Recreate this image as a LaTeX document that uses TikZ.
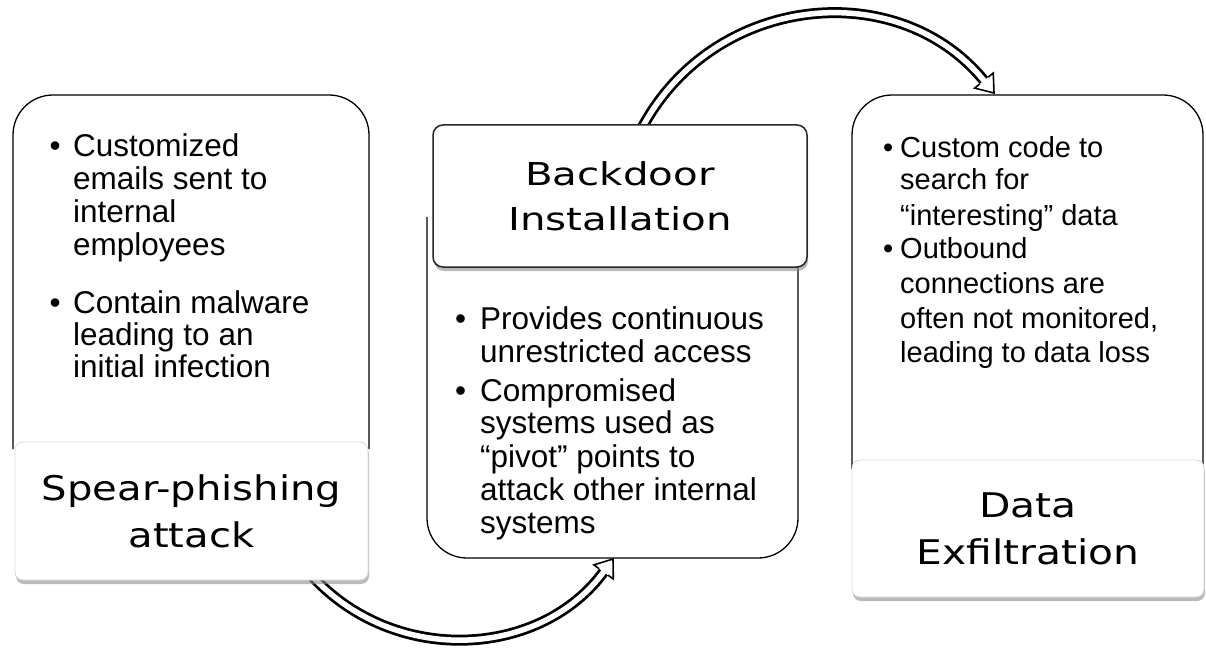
\documentclass[tikz,border=0pt]{standalone}
\usepackage{fontspec}
\setmainfont{Liberation Sans}
\newfontfamily\labfont{DejaVu Sans}
\usetikzlibrary{shadows}
\tikzset{
 outline/.style={line width=1.3pt, black, rounded corners=40pt},
 lab/.style={rectangle, rounded corners=8pt, fill=white, inner sep=0pt,
   drop shadow={shadow xshift=1pt, shadow yshift=-4pt, fill=black!45, opacity=0.6}},
 labelA/.style={lab, draw=black!15, line width=0.8pt},
 labelB/.style={lab, draw=black!85, line width=1.5pt, rounded corners=10pt},
 labtxt/.style={align=center, inner sep=0pt, transform shape},
 txt/.style={anchor=base west, inner sep=0pt, font=\fontsize{31.5}{34}\selectfont},
 txtS/.style={anchor=base west, inner sep=0pt, font=\fontsize{29}{34}\selectfont},
 bandO/.style={line width=11pt, black, shorten >=15pt},
 bandI/.style={line width=5.5pt, white, shorten >=15pt},
 headshape/.style={fill=white, draw=black, line width=1.6pt, line join=miter}
}
\begin{document}
\begin{tikzpicture}[x=1pt,y=1pt]
\useasboundingbox (0,0) rectangle (1206,649);
% outer boxes
\draw[outline] (13,200) -- (13,554) -- (369,554) -- (369,200);
\draw[outline] (427,432) -- (427,91) -- (798,91) -- (798,432);
\draw[outline] (852,180) -- (852,554) -- (1203,554) -- (1203,180);
% arrows
\coordinate (A1s) at (642,521);
\coordinate (A1e) at (994,556);
\coordinate (A2s) at (313,72);
\coordinate (A2e) at (613,90);
\draw[bandO] (A1s) to[out=62,in=129,looseness=1.1] (A1e);
\draw[bandI] (A1s) to[out=62,in=129,looseness=1.1] (A1e);
\begin{scope}[shift={(A1e)}, rotate=-51]
\draw[headshape] (-16,5.5) -- (-16,12) -- (0,0) -- (-16,-12) -- (-16,-5.5);
\end{scope}
\draw[bandO] (A2s) to[out=-47,in=234,looseness=1.04] (A2e);
\draw[bandI] (A2s) to[out=-47,in=234,looseness=1.04] (A2e);
\begin{scope}[shift={(A2e)}, rotate=54]
\draw[headshape] (-16,5.5) -- (-16,12) -- (0,0) -- (-16,-12) -- (-16,-5.5);
\end{scope}
% labels
\node[labelA, minimum width=353pt, minimum height=138pt] (L1) at (191.5,138) {};
\node[labelB, minimum width=374pt, minimum height=142pt] (L2) at (620,453) {};
\node[labelA, minimum width=352pt, minimum height=137pt] (L3) at (1028,120.5) {};
\node[labtxt, xscale=1.18, font=\labfont\fontsize{34}{47}\selectfont] (L1t) at (L1) {Spear-phishing\\attack};
\node[labtxt, xscale=1.28, font=\labfont\fontsize{31.5}{45}\selectfont] (L2t) at (L2) {Backdoor\\Installation};
\node[labtxt, xscale=1.2, font=\labfont\fontsize{34}{47}\selectfont] (L3t) at (L3) {Data\\Exfiltration};
% left text
\node[txt] (p1a) at (49.5,492) {•};
\node[txt] (p1b) at (49.5,336) {•};
\node[txt] (t11) at (73,492) {Customized};
\node[txt] (t12) at (73,459) {emails sent to};
\node[txt] (t13) at (73,426) {internal};
\node[txt] (t14) at (73,394) {employees};
\node[txt] (t15) at (73,336) {Contain malware};
\node[txt] (t16) at (73,304) {leading to an};
\node[txt] (t17) at (73,272) {initial infection};
% middle text
\node[txt] (p2a) at (455,320) {•};
\node[txt] (p2b) at (455,248) {•};
\node[txt] (t21) at (480,320) {Provides continuous};
\node[txt] (t22) at (480,287) {unrestricted access};
\node[txt] (t23) at (480,248) {Compromised};
\node[txt] (t24) at (480,216) {systems used as};
\node[txt] (t25) at (480,182) {“pivot” points to};
\node[txt] (t26) at (480,149) {attack other internal};
\node[txt] (t27) at (480,116) {systems};
% right text
\node[txtS] (p3a) at (883,491) {•};
\node[txtS] (p3b) at (883,391) {•};
\node[txtS] (t31) at (900,491) {Custom code to};
\node[txtS] (t32) at (900,459) {search for};
\node[txtS] (t33) at (900,424) {“interesting” data};
\node[txtS] (t34) at (900,391) {Outbound};
\node[txtS] (t35) at (900,356) {connections are};
\node[txtS] (t36) at (900,321) {often not monitored,};
\node[txtS] (t37) at (900,287) {leading to data loss};
\end{tikzpicture}
\end{document}
